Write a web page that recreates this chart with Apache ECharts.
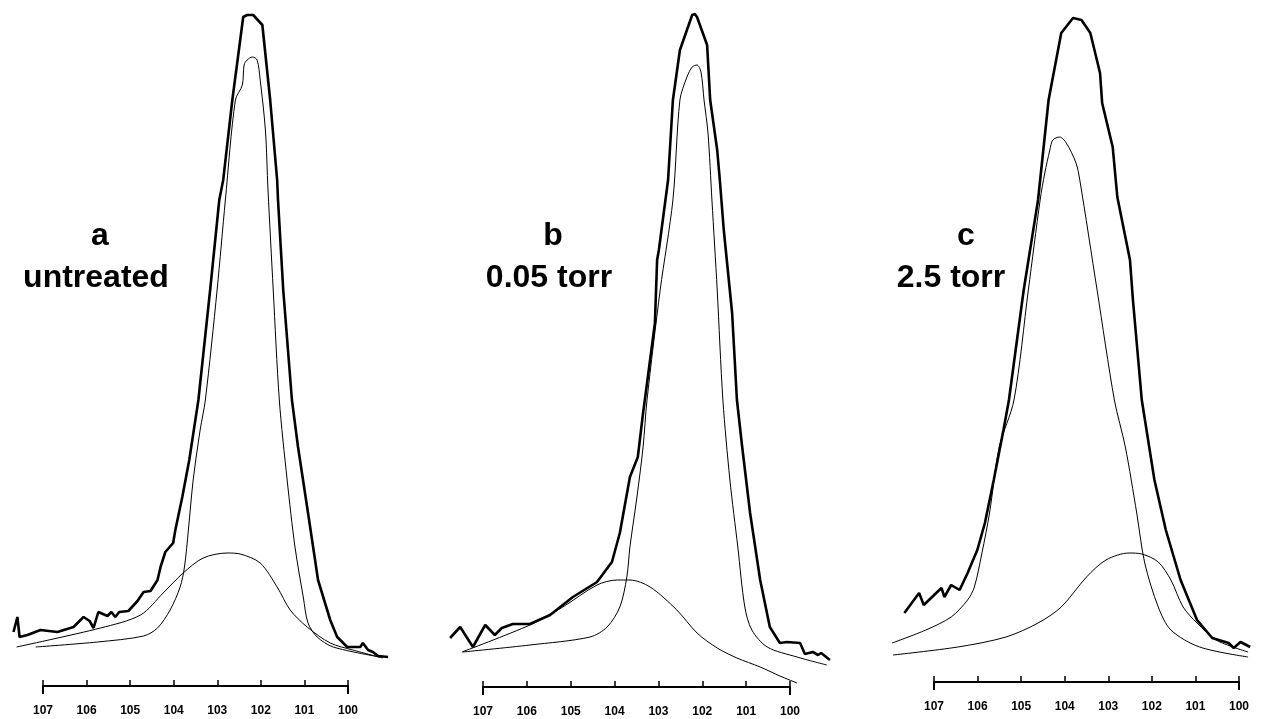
<!DOCTYPE html>
<html>
<head>
<meta charset="utf-8">
<script src="https://cdn.jsdelivr.net/npm/echarts@6/dist/echarts.min.js"></script>
<style>
  html, body { margin: 0; background: #fff; }
  #chart { width: 1270px; height: 719px; }
</style>
</head>
<body>
<div id="chart"></div>
<script>
// [binding energy (eV), intensity (a.u.)]
// a - untreated
var envA = [[107.69,10.8],[107.60,13.8],[107.55,9.8],[107.37,10.2],[107.07,11.2],[106.68,10.8],[106.31,11.8],[106.08,13.8],[105.94,13.0],[105.85,11.6],[105.74,14.8],[105.53,14.0],[105.44,14.8],[105.35,13.8],[105.26,14.8],[105.05,15.0],[104.84,17.0],[104.70,18.8],[104.54,19.0],[104.38,21.2],[104.31,23.8],[104.20,26.8],[104.02,28.6],[103.97,31.2],[103.81,37.8],[103.65,45.2],[103.51,53.2],[103.44,57.2],[103.17,79.2],[102.96,97.2],[102.87,101.2],[102.66,117.2],[102.41,133.8],[102.32,134.2],[102.18,134.2],[101.97,132.2],[101.79,117.2],[101.63,101.2],[101.61,97.2],[101.49,79.2],[101.29,57.2],[101.15,47.8],[100.92,34.6],[100.69,21.2],[100.41,13.2],[100.25,9.8],[100.02,7.8],[99.72,7.8],[99.66,8.6],[99.54,7.2],[99.43,6.8],[99.31,6.0],[99.08,5.8]];
var mainA = [[107.18,7.8],[105.76,8.8],[104.70,10.0],[104.38,11.6],[104.09,15.2],[103.86,19.8],[103.76,23.8],[103.67,31.2],[103.56,41.2],[103.40,51.2],[103.28,57.2],[103.01,79.2],[102.82,97.2],[102.59,117.2],[102.43,120.2],[102.39,124.2],[102.32,125.2],[102.20,125.8],[102.09,125.2],[102.02,121.2],[101.90,111.2],[101.84,99.2],[101.72,79.2],[101.58,57.2],[101.40,41.2],[101.22,27.8],[101.03,17.8],[100.92,12.6],[100.71,9.8],[100.34,7.8],[99.27,5.8]];
var broadA = [[107.62,7.8],[105.69,11.6],[104.77,14.2],[104.25,18.6],[103.79,22.6],[103.33,25.6],[102.78,26.6],[102.48,26.4],[102.02,24.6],[101.63,19.8],[101.33,15.2],[100.94,11.8],[100.41,8.6],[99.89,7.2],[99.20,5.6]];

// b - 0.05 torr
var envB = [[107.75,9.8],[107.52,12.0],[107.23,8.0],[106.95,12.4],[106.73,10.4],[106.57,11.8],[106.32,12.6],[105.93,12.6],[105.47,14.4],[104.95,18.0],[104.40,21.0],[104.06,25.0],[103.88,30.8],[103.65,42.0],[103.47,46.0],[103.35,54.8],[103.31,57.4],[103.08,72.8],[103.03,85.4],[102.99,87.4],[102.78,101.4],[102.67,117.4],[102.51,127.4],[102.23,134.4],[102.17,134.6],[102.12,134.0],[101.89,128.4],[101.82,117.4],[101.66,107.4],[101.60,101.4],[101.51,91.4],[101.32,74.8],[101.21,57.4],[101.09,48.0],[100.91,34.8],[100.68,21.4],[100.46,12.0],[100.23,8.8],[100.07,9.0],[99.77,8.8],[99.66,6.6],[99.48,7.0],[99.36,6.4],[99.29,6.8],[99.09,5.4]];
var mainB = [[107.46,7.0],[105.93,8.4],[104.56,10.0],[104.17,12.0],[103.88,16.0],[103.72,22.0],[103.65,28.0],[103.49,38.0],[103.35,48.0],[103.26,57.4],[102.96,79.4],[102.67,97.4],[102.51,117.4],[102.35,122.0],[102.23,124.0],[102.12,124.4],[102.03,123.0],[101.96,117.4],[101.87,110.8],[101.78,97.4],[101.66,79.4],[101.53,57.4],[101.37,41.4],[101.19,28.0],[101.03,16.0],[100.87,11.4],[100.52,8.0],[99.84,6.0],[99.16,4.4]];
var broadB = [[107.48,7.0],[105.93,12.4],[105.18,16.0],[104.40,20.4],[103.94,21.4],[103.65,21.4],[103.19,20.0],[102.58,15.4],[102.12,10.8],[101.66,7.8],[101.21,5.8],[100.68,4.0],[100.23,2.2],[99.84,0.8]];

// c - 2.5 torr
var envC = [[107.67,13.8],[107.32,17.8],[107.21,15.4],[106.79,18.8],[106.72,17.0],[106.56,19.4],[106.36,18.4],[106.17,21.8],[105.94,26.4],[105.76,31.8],[105.55,40.4],[105.32,50.4],[105.19,56.4],[104.84,78.4],[104.50,96.4],[104.25,116.4],[103.95,129.8],[103.67,132.8],[103.47,132.4],[103.26,129.8],[103.03,121.8],[102.98,115.8],[102.73,107.0],[102.62,97.0],[102.32,84.4],[102.25,76.4],[102.04,56.4],[101.74,40.4],[101.47,30.4],[101.12,20.4],[100.73,12.4],[100.37,8.8],[99.98,7.8],[99.86,6.8],[99.70,8.0],[99.47,7.0]];
var mainC = [[107.96,7.8],[107.16,10.4],[106.56,13.0],[106.17,16.4],[106.01,19.0],[105.83,25.8],[105.65,33.8],[105.42,47.0],[105.07,56.4],[104.73,78.4],[104.45,96.4],[104.34,101.8],[104.22,106.4],[104.15,108.4],[103.99,109.0],[103.83,107.8],[103.60,103.8],[103.51,100.4],[103.10,78.4],[102.69,56.4],[102.43,47.0],[102.16,33.8],[101.97,23.8],[101.65,15.0],[101.35,10.4],[100.67,7.0],[99.52,5.0]];
var broadC = [[107.94,5.4],[106.40,7.0],[105.26,9.0],[104.50,11.8],[103.95,15.0],[103.35,21.0],[102.89,24.4],[102.34,25.8],[102.04,25.6],[101.65,24.0],[101.35,20.4],[101.06,15.0],[100.73,11.8],[100.28,8.4],[99.52,6.0]];

var panelLetters = ['a', 'b', 'c'];
var panelConditions = ['untreated', '0.05 torr', '2.5 torr'];
var beMin = 100, beMax = 107;       // drawn scale
var dataMin = 99, dataMax = 108;    // range the curves run over

var chart = echarts.init(document.getElementById('chart'));

var panels = [
  { env: envA, main: mainA, broad: broadA, left: 43,  width: 305, axisY: 686, letterX: 100, condX: 96 },
  { env: envB, main: mainB, broad: broadB, left: 483, width: 307, axisY: 687, letterX: 553, condX: 549 },
  { env: envC, main: mainC, broad: broadC, left: 934, width: 305, axisY: 682, letterX: 966, condX: 951 }
];

var grids = [], xAxes = [], yAxes = [], series = [], graphics = [];
var labelFont = 'bold 32px "Liberation Sans", Arial, sans-serif';
var plotH = 675;

panels.forEach(function (p, i) {
  var ppu = p.width / (beMax - beMin);
  var top = p.axisY - plotH;

  // data grid (wider, hidden axes)
  var dg = grids.length;
  grids.push({ left: p.left - (dataMax - beMax) * ppu, width: (dataMax - dataMin) * ppu, top: top, height: plotH });
  var dx = xAxes.length;
  xAxes.push({ type: 'value', gridIndex: dg, min: dataMin, max: dataMax, inverse: true, show: false });
  var dy = yAxes.length;
  yAxes.push({ type: 'value', gridIndex: dg, min: 0, max: 135, show: false });

  // axis grid (107 .. 100)
  var ag = grids.length;
  grids.push({ left: p.left, width: p.width, top: top, height: plotH });
  xAxes.push({
    type: 'value', gridIndex: ag, min: beMin, max: beMax, interval: 1, inverse: true,
    axisLine: { show: true, lineStyle: { color: '#000', width: 2 } },
    axisTick: { show: true, inside: true, length: 6, lineStyle: { color: '#000', width: 1.5 } },
    axisLabel: { color: '#000', fontSize: 12, fontWeight: 'bold', fontFamily: 'Liberation Sans', margin: 19 },
    splitLine: { show: false }
  });
  xAxes.push({
    type: 'value', gridIndex: ag, min: beMin, max: beMax, interval: 7, inverse: true, position: 'bottom',
    axisLine: { show: false },
    axisTick: { show: true, length: 8, lineStyle: { color: '#000', width: 2 } },
    axisLabel: { show: false },
    splitLine: { show: false }
  });
  yAxes.push({ type: 'value', gridIndex: ag, min: 0, max: 135, show: false });

  series.push({
    type: 'line', xAxisIndex: dx, yAxisIndex: dy, data: p.env,
    showSymbol: false, lineStyle: { color: '#000', width: 2.6 }, z: 3
  });
  series.push({
    type: 'line', xAxisIndex: dx, yAxisIndex: dy, data: p.main, smooth: 0.3,
    showSymbol: false, lineStyle: { color: '#000', width: 1 }, z: 2
  });
  series.push({
    type: 'line', xAxisIndex: dx, yAxisIndex: dy, data: p.broad, smooth: 0.3,
    showSymbol: false, lineStyle: { color: '#000', width: 1 }, z: 2
  });

  graphics.push({
    type: 'text', x: p.letterX, y: 236,
    style: { text: panelLetters[i], font: labelFont, fill: '#000', textAlign: 'center', textVerticalAlign: 'middle' }
  });
  graphics.push({
    type: 'text', x: p.condX, y: 278,
    style: { text: panelConditions[i], font: labelFont, fill: '#000', textAlign: 'center', textVerticalAlign: 'middle' }
  });
});

var option = {
  backgroundColor: '#fff',
  animation: false,
  grid: grids,
  xAxis: xAxes,
  yAxis: yAxes,
  series: series,
  graphic: graphics
};

chart.setOption(option);

window.addEventListener('resize', function () {
  chart.resize();
});
</script>
</body>
</html>
